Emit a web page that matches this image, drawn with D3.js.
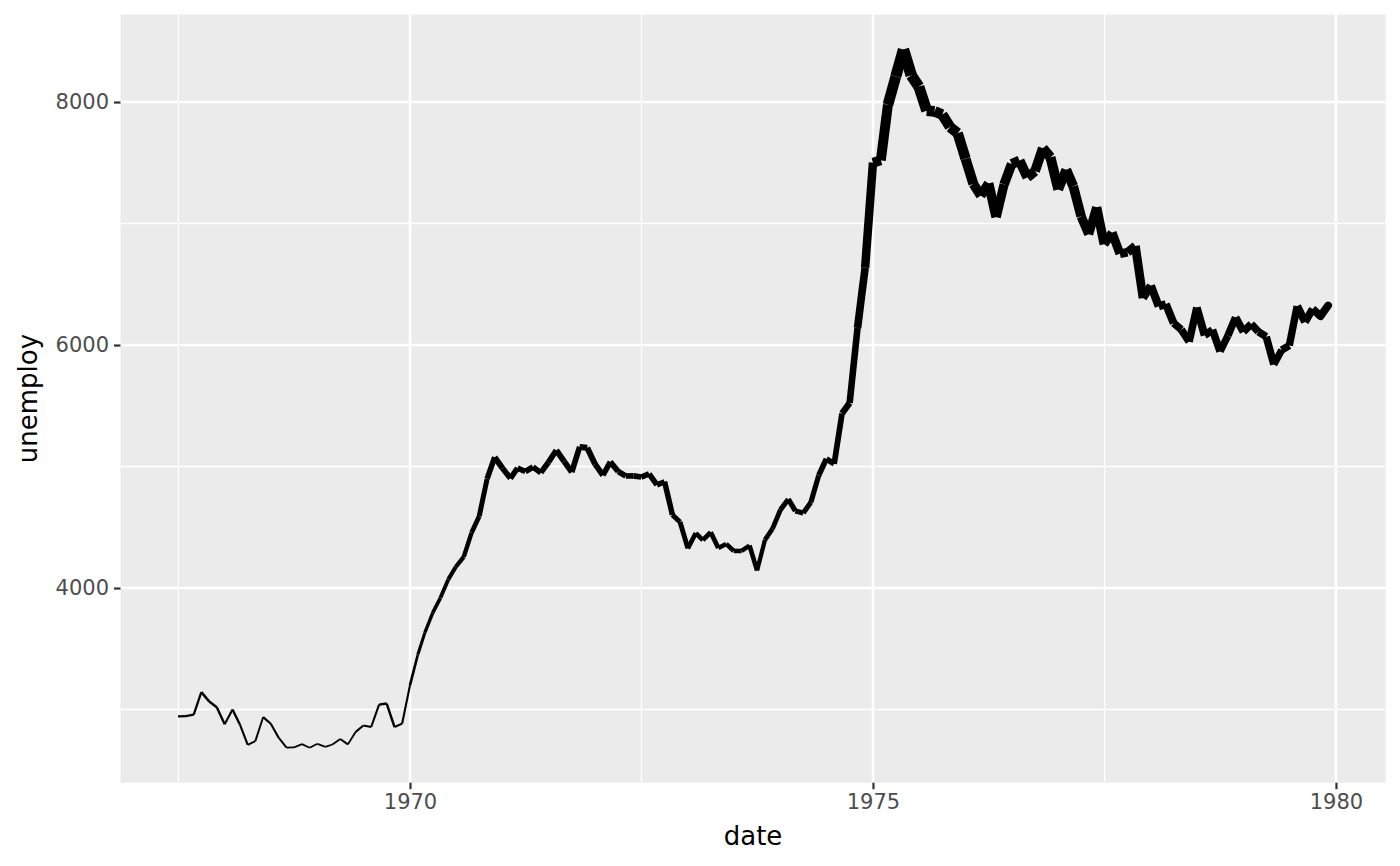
<!DOCTYPE html>
<html>
<head>
<meta charset="utf-8">
<script src="https://cdn.jsdelivr.net/npm/d3@7"></script>
<style>
  html, body { margin: 0; padding: 0; background: #ffffff; }
  svg { display: block; }
</style>
</head>
<body>
<svg id="chart" width="1400" height="866"></svg>
<script>
// ---- Data (US unemployment, thousands, monthly Jul 1967 – Dec 1979) ----
const firstMonth = "1967-07-01";
const lastMonth = "1979-12-01";
const unemploy = [
  2944, 2945, 2958, 3143, 3066, 3018,
  2878, 3001, 2877, 2709, 2740, 2938, 2883, 2768, 2686, 2689, 2715, 2685,
  2718, 2692, 2712, 2758, 2713, 2816, 2868, 2856, 3040, 3049, 2856, 2884,
  3201, 3453, 3635, 3797, 3919, 4071, 4175, 4256, 4456, 4591, 4898, 5076,
  4986, 4903, 4987, 4959, 4996, 4949, 5035, 5134, 5042, 4954, 5161, 5154,
  5019, 4928, 5038, 4959, 4922, 4923, 4913, 4939, 4849, 4875, 4602, 4543,
  4326, 4452, 4394, 4459, 4329, 4363, 4305, 4305, 4350, 4144, 4396, 4489,
  4644, 4731, 4634, 4618, 4705, 4927, 5063, 5022, 5437, 5523, 6140, 6636,
  7501, 7520, 7978, 8210, 8433, 8220, 8127, 7928, 7923, 7897, 7794, 7744,
  7534, 7326, 7230, 7330, 7053, 7322, 7490, 7518, 7380, 7430, 7620, 7545,
  7280, 7443, 7307, 7059, 6911, 7134, 6829, 6925, 6751, 6763, 6815, 6386,
  6489, 6318, 6337, 6180, 6127, 6028, 6309, 6080, 6125, 5947, 6077, 6228,
  6109, 6173, 6109, 6069, 5840, 5959, 5996, 6320, 6190, 6296, 6238, 6325
];
const xTickYears = [1970, 1975, 1980];
const xMinorYears = [1967.5, 1972.5, 1977.5];
const yTicks = [4000, 6000, 8000];
const yMinor = [3000, 5000, 7000];
const xTitle = "date";
const yTitle = "unemploy";

// ---- Build records ----
const dates = d3.utcMonth.range(new Date(firstMonth + "T00:00:00Z"),
                                d3.utcMonth.offset(new Date(lastMonth + "T00:00:00Z"), 1));
const data = dates.map((d, i) => ({ date: d, value: unemploy[i] }));

// ---- Layout ----
const panel = { left: 120.5, right: 1385.6, top: 14.5, bottom: 782.7 };
const svg = d3.select("#chart");

const xExt = d3.extent(data, d => +d.date);
const xPad = (xExt[1] - xExt[0]) * 0.05;
const x = d3.scaleUtc()
  .domain([new Date(xExt[0] - xPad), new Date(xExt[1] + xPad)])
  .range([panel.left, panel.right]);

const yExt = d3.extent(data, d => d.value);
const yPad = (yExt[1] - yExt[0]) * 0.05;
const y = d3.scaleLinear()
  .domain([yExt[0] - yPad, yExt[1] + yPad])
  .range([panel.bottom, panel.top]);

const widthScale = d3.scaleLinear().domain(yExt).range([1.8, 11.5]);

const yearDate = yr => {
  const whole = Math.floor(yr);
  const start = Date.UTC(whole, 0, 1), end = Date.UTC(whole + 1, 0, 1);
  return new Date(start + (end - start) * (yr - whole));
};

// panel background
svg.append("rect")
  .attr("x", panel.left).attr("y", panel.top)
  .attr("width", panel.right - panel.left).attr("height", panel.bottom - panel.top)
  .attr("fill", "#EBEBEB");

const grid = svg.append("g");
grid.selectAll(".xminor").data(xMinorYears).enter().append("line")
  .attr("x1", d => x(yearDate(d))).attr("x2", d => x(yearDate(d)))
  .attr("y1", panel.top).attr("y2", panel.bottom)
  .attr("stroke", "#ffffff").attr("stroke-width", 1.3);
grid.selectAll(".yminor").data(yMinor).enter().append("line")
  .attr("y1", d => y(d)).attr("y2", d => y(d))
  .attr("x1", panel.left).attr("x2", panel.right)
  .attr("stroke", "#ffffff").attr("stroke-width", 1.3);
grid.selectAll(".xmajor").data(xTickYears).enter().append("line")
  .attr("x1", d => x(yearDate(d))).attr("x2", d => x(yearDate(d)))
  .attr("y1", panel.top).attr("y2", panel.bottom)
  .attr("stroke", "#ffffff").attr("stroke-width", 2.6);
grid.selectAll(".ymajor").data(yTicks).enter().append("line")
  .attr("y1", d => y(d)).attr("y2", d => y(d))
  .attr("x1", panel.left).attr("x2", panel.right)
  .attr("stroke", "#ffffff").attr("stroke-width", 2.6);

// ---- Line with varying width (segment by segment) ----
const segs = d3.pairs(data);
svg.append("g").selectAll("line").data(segs).enter().append("line")
  .attr("x1", d => x(d[0].date)).attr("y1", d => y(d[0].value))
  .attr("x2", d => x(d[1].date)).attr("y2", d => y(d[1].value))
  .attr("stroke", "#000000")
  .attr("stroke-linecap", (d, i) => i === segs.length - 1 ? "round" : "butt")
  .attr("stroke-width", d => widthScale(d[0].value));

// ---- Axes ----
const font = "'DejaVu Sans', 'Liberation Sans', sans-serif";
const xAxis = d3.axisBottom(x)
  .tickValues(xTickYears.map(yr => yearDate(yr)))
  .tickFormat(d3.utcFormat("%Y"))
  .tickSize(6.5).tickPadding(5);
const gx = svg.append("g").attr("transform", `translate(0,${panel.bottom})`).call(xAxis);
gx.select(".domain").remove();
gx.selectAll(".tick line").attr("stroke", "#333333").attr("stroke-width", 2.2);
gx.selectAll(".tick text").attr("fill", "#4D4D4D")
  .style("font-family", font).style("font-size", "21px");

const yAxis = d3.axisLeft(y).tickValues(yTicks).tickFormat(d3.format("d"))
  .tickSize(6.5).tickPadding(5);
const gy = svg.append("g").attr("transform", `translate(${panel.left},0)`).call(yAxis);
gy.select(".domain").remove();
gy.selectAll(".tick line").attr("stroke", "#333333").attr("stroke-width", 2.2);
gy.selectAll(".tick text").attr("fill", "#4D4D4D")
  .style("font-family", font).style("font-size", "21px");

svg.append("text")
  .attr("x", (panel.left + panel.right) / 2).attr("y", 845)
  .attr("text-anchor", "middle")
  .style("font-family", font).style("font-size", "26px").attr("fill", "#000")
  .text(xTitle);
svg.append("text")
  .attr("transform", `translate(37,${(panel.top + panel.bottom) / 2}) rotate(-90)`)
  .attr("text-anchor", "middle")
  .style("font-family", font).style("font-size", "26px").attr("fill", "#000")
  .text(yTitle);
</script>
</body>
</html>
